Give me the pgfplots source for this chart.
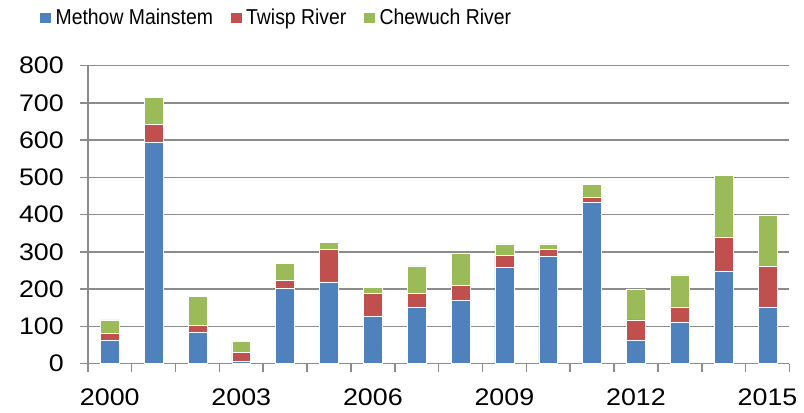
\documentclass[border=0pt]{standalone}
\usepackage{pgfplots}
\pgfplotsset{compat=1.18}
\usepackage{fontspec}
\setmainfont{Liberation Sans}
\newfontfamily\tickfont[FakeStretch=1.12]{Liberation Sans}
\newfontfamily\legfont[FakeStretch=0.9]{Liberation Sans}

\definecolor{cblue}{HTML}{4F81BD}
\definecolor{cred}{HTML}{C0504D}
\definecolor{cgreen}{HTML}{9BBB59}
\definecolor{cgrid}{HTML}{8C8C8C}

\begin{document}
\begin{tikzpicture}
\begin{axis}[
  scale only axis,
  width=351.5pt, height=149.3pt,
  ybar stacked,
  bar width=0.43,
  xmin=-0.5, xmax=15.5,
  ymin=0, ymax=800,
  ytick={0,100,...,800},
  xtick={-0.5,0.5,...,15.5},
  xticklabels={},
  extra x ticks={0,3,6,9,12,15},
  extra x tick labels={2000,2003,2006,2009,2012,2015},
  extra x tick style={major tick length=0pt, grid=none},
  tick align=outside,
  major tick length=4pt,
  axis lines*=left,
  axis line style={draw=cgrid, line width=0.8pt},
  tick style={draw=cgrid, line width=0.8pt},
  ymajorgrids,
  grid style={draw=cgrid, line width=0.7pt},
  /pgf/number format/assume math mode=true,
  ticklabel style={font=\tickfont\fontsize{12}{14}\selectfont},
  yticklabel style={xshift=-4.5pt},
  xticklabel style={yshift=-9pt},
  legend columns=3,
  legend style={draw=none, fill=none, font=\legfont\fontsize{10.8}{12}\selectfont,
    at={(rel axis cs:0.27,1.160)}, anchor=center,
    /tikz/every even column/.append style={column sep=6.5pt}},
  legend image code/.code={\fill[#1] (0pt,-2.9pt) rectangle (5.8pt,2.9pt);},
]
\addplot[fill=cblue, draw=white, line width=0.3pt] coordinates {
 (0,63) (1,593) (2,83) (3,5) (4,201) (5,219) (6,127) (7,152)
 (8,171) (9,258) (10,287) (11,433) (12,63) (13,112) (14,249) (15,152)};
\addplot[fill=cred, draw=white, line width=0.3pt] coordinates {
 (0,19) (1,48) (2,20) (3,24) (4,23) (5,87) (6,62) (7,37)
 (8,38) (9,33) (10,19) (11,13) (12,54) (13,40) (14,91) (15,110)};
\addplot[fill=cgreen, draw=white, line width=0.3pt] coordinates {
 (0,35) (1,73) (2,77) (3,30) (4,44) (5,20) (6,15) (7,73)
 (8,87) (9,30) (10,15) (11,35) (12,83) (13,86) (14,165) (15,136)};
\legend{Methow Mainstem, Twisp River, Chewuch River}
\coordinate (bl) at (rel axis cs:-0.1252,-0.1564);
\coordinate (tr) at (rel axis cs:1.0185,1.2200);
\end{axis}
\path (bl) rectangle (tr);
\end{tikzpicture}
\end{document}
